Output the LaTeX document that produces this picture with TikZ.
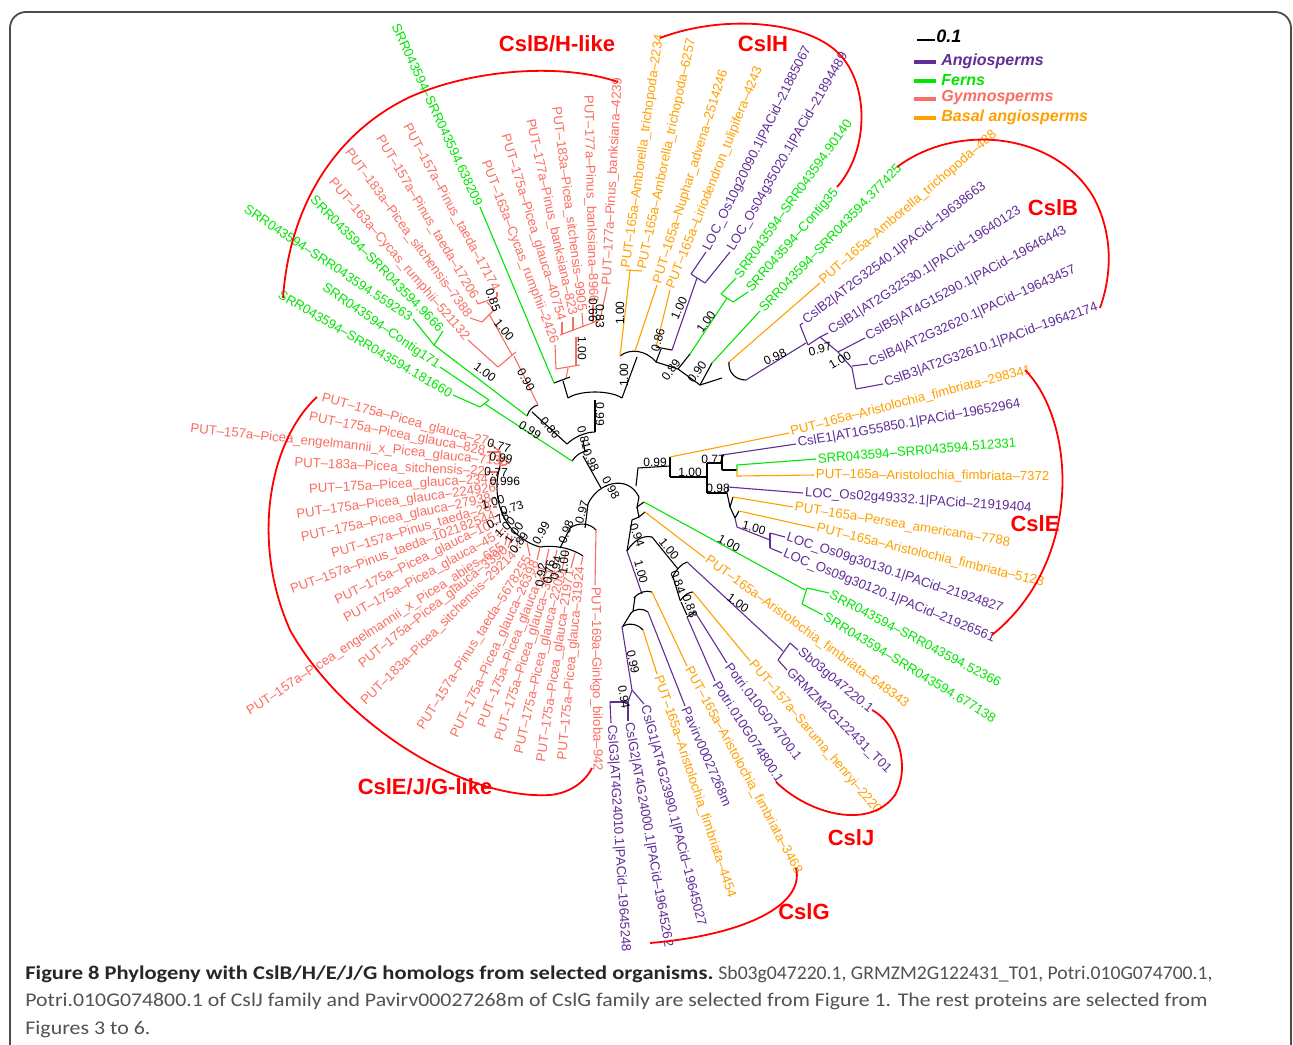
\documentclass[tikz,border=0pt]{standalone}
\usepackage{fontspec}
\setmainfont{Liberation Sans}[Ligatures=TeX]
\newfontfamily\capfont{Carlito}
\usepackage{graphicx}
\definecolor{pur}{RGB}{96,46,150}
\definecolor{grn}{RGB}{0,230,0}
\definecolor{sal}{RGB}{250,110,98}
\definecolor{org}{RGB}{255,160,0}
\definecolor{cred}{RGB}{255,0,0}
\newcommand\tipR[5]{\coordinate (#1) at (#2);\path (#1) -- (#3) node[lbl,text=#4,pos=0,sloped,anchor=west] (#1t) {#5};}
\newcommand\tipL[5]{\coordinate (#1) at (#2);\path (#3) -- (#1) node[lbl,text=#4,pos=1,sloped,anchor=east] (#1t) {#5};}
\begin{document}
\begin{tikzpicture}[x=0.5pt,y=-0.5pt,
  lbl/.style={font=\fontsize{6.6}{7}\selectfont, inner sep=0.8pt},
  bs/.style={font=\fontsize{6}{7}\selectfont, inner sep=0pt, text=black},
  br/.style={line width=0.55pt},
  redarc/.style={cred, line width=0.9pt},
  clade/.style={font=\fontsize{11}{13}\selectfont\bfseries, text=cred, inner sep=0pt},
  leg/.style={font=\fontsize{8}{9}\selectfont\bfseries\itshape, anchor=west, inner sep=0pt},
]
\useasboundingbox (0,0) rectangle (1293,1044);
\fill[white] (0,0) rectangle (1293,1044);
% frame
\draw[black!70, line width=0.9pt, rounded corners=8pt] (10,1120) -- (10,12) -- (1291,12) -- (1291,1120);

% ---------- tips: CslB/H-like ----------
\tipL{g1}{480,207}{398,30}{grn}{SRR043594–SRR043594.638209}
\tipL{s1}{555,345}{487,167}{sal}{PUT–163a–Cycas\_rumphii–2426}
\tipL{s2}{562,322}{507,143}{sal}{PUT–175a–Picea\_glauca–40754}
\tipL{s3}{573,317}{532,130}{sal}{PUT–177a–Pinus\_banksiana–823}
\tipL{s4}{582,313}{557,117}{sal}{PUT–183a–Picea\_sitchensis–9905}
\tipL{s5}{593,305}{588,105}{sal}{PUT–177a–Pinus\_banksiana–8966}
\tipR{s6}{607,287}{618,83}{sal}{PUT–177a–Pinus\_banksiana–4239}
\tipL{s7}{497,292}{413,138}{sal}{PUT–157a–Pinus\_taeda–17174}
\tipL{s8}{476,300}{382,142}{sal}{PUT–157a–Pinus\_taeda–17206}
\tipL{s9}{470,318}{352,157}{sal}{PUT–183a–Picea\_sitchensis–7388}
\tipL{s10}{468,340}{333,183}{sal}{PUT–163a–Cycas\_rumphii–521132}
\tipL{g2}{443,331}{318,203}{grn}{SRR043594–SRR043594.9666}
\tipL{g3}{413,319}{252,212}{grn}{SRR043594–SRR043594.559263}
\tipL{g4}{440,367}{328,290}{grn}{SRR043594–Contig171}
\tipL{g5}{453,395}{285,297}{grn}{SRR043594–SRR043594.181660}
% ---------- CslH ----------
\tipR{o1}{626,270}{660,33}{org}{PUT–165a–Amborella\_trichopoda–2234}
\tipR{o2}{642,271}{692,38}{org}{PUT–165a–Amborella\_trichopoda–6257}
\tipR{o3}{657,285}{725,68}{org}{PUT–165a–Nuphar\_advena–2514246}
\tipR{o4}{670,290}{758,70}{org}{PUT–165a–Liriodendron\_tulipifera–4243}
\tipR{p1}{706,252}{808,47}{pur}{LOC\_Os10g20090.1|PACid–21885067}
\tipR{p2}{730,252}{843,57}{pur}{LOC\_Os04g35020.1|PACid–21894489}
\tipR{g6}{736,278}{848,122}{grn}{SRR043594–SRR043594.90140}
\tipR{g7}{748,292}{837,190}{grn}{SRR043594–Contig35}
\tipR{g8}{760,311}{898,167}{grn}{SRR043594–SRR043594.377425}
% ---------- CslB ----------
\tipR{o5}{820,283}{993,135}{org}{PUT–165a–Amborella\_trichopoda–488}
\tipR{p3}{803,323}{985,185}{pur}{CslB2|AT2G32540.1|PACid–19638663}
\tipR{p4}{828,333}{1020,210}{pur}{CslB1|AT2G32530.1|PACid–19640123}
\tipR{p5}{865,338}{1065,230}{pur}{CslB5|AT4G15290.1|PACid–19646443}
\tipR{p6}{868,364}{1073,270}{pur}{CslB4|AT2G32620.1|PACid–19643457}
\tipR{p7}{883,384}{1097,307}{pur}{CslB3|AT2G32610.1|PACid–19642174}
% ---------- CslE ----------
\tipR{o6}{789,433}{1023,372}{org}{PUT–165a–Aristolochia\_fimbriata–298341}
\tipR{p8}{796,444}{1015,405}{pur}{CslE1|AT1G55850.1|PACid–19652964}
\tipR{g9}{816,459}{1008,443}{grn}{SRR043594–SRR043594.512331}
\tipR{o7}{814,475}{1043,477}{org}{PUT–165a–Aristolochia\_fimbriata–7372}
\tipR{p9}{803,493}{1025,508}{pur}{LOC\_Os02g49332.1|PACid–21919404}
\tipR{o8}{793,507}{1005,542}{org}{PUT–165a–Persea\_americana–7788}
\tipR{o9}{815,528}{1040,582}{org}{PUT–165a–Aristolochia\_fimbriata–5123}
\tipR{p10}{785,537}{1000,608}{pur}{LOC\_Os09g30130.1|PACid–21924827}
\tipR{p11}{782,553}{990,637}{pur}{LOC\_Os09g30120.1|PACid–21926561}
\tipR{g10}{829,593}{1000,683}{grn}{SRR043594–SRR043594.52366}
\tipR{g11}{823,615}{993,718}{grn}{SRR043594–SRR043594.677138}
% ---------- CslJ ----------
\tipR{o10}{705,558}{903,702}{org}{PUT–165a–Aristolochia\_fimbriata–648343}
\tipR{p12}{798,650}{870,710}{pur}{Sb03g047220.1}
\tipR{p13}{787,670}{888,770}{pur}{GRMZM2G122431\_T01}
\tipR{o11}{750,661}{875,808}{org}{PUT–157a–Saruma\_henryi–2220}
\tipR{p14}{727,663}{798,757}{pur}{Potri.010G074700.1}
\tipR{p15}{715,681}{778,777}{pur}{Potri.010G074800.1}
% ---------- CslG ----------
\tipR{o12}{687,666}{797,870}{org}{PUT–165a–Aristolochia\_fimbriata–3468}
\tipR{p16}{685,706}{727,803}{pur}{Pavirv00027268m}
\tipR{o13}{657,674}{730,892}{org}{PUT–165a–Aristolochia\_fimbriata–4454}
\tipR{p17}{644,704}{700,920}{pur}{CslG1|AT4G23990.1|PACid–19645027}
\tipR{p18}{628,721}{667,940}{pur}{CslG2|AT4G24000.1|PACid–19645262}
\tipR{p19}{611,723}{625,945}{pur}{CslG3|AT4G24010.1|PACid–19645248}
% ---------- CslE/J/G-like ----------
\tipL{l1}{490,443}{317,397}{sal}{PUT–175a–Picea\_glauca–27}
\tipL{l2}{487,452}{308,417}{sal}{PUT–175a–Picea\_glauca–828}
\tipL{l3}{510,463}{198,430}{sal}{PUT–157a–Picea\_engelmannii\_x\_Picea\_glauca–7138}
\tipL{l4}{487,472}{287,463}{sal}{PUT–183a–Picea\_sitchensis–22}
\tipL{l5}{490,480}{304,490}{sal}{PUT–175a–Picea\_glauca–234}
\tipL{l6}{498,488}{295,515}{sal}{PUT–175a–Picea\_glauca–224926}
\tipL{l7}{493,498}{305,537}{sal}{PUT–175a–Picea\_glauca–27938}
\tipL{l8}{493,507}{323,557}{sal}{PUT–157a–Pinus\_taeda–28}
\tipL{l9}{497,515}{292,590}{sal}{PUT–157a–Pinus\_taeda–102182544}
\tipL{l10}{492,525}{332,603}{sal}{PUT–175a–Picea\_glauca–10}
\tipL{l11}{497,536}{350,617}{sal}{PUT–175a–Picea\_glauca–45}
\tipL{l12}{505,545}{263,703}{sal}{PUT–157a–Picea\_engelmannii\_x\_Picea\_abies–655}
\tipL{l13}{508,548}{380,650}{sal}{PUT–175a–Picea\_glauca–3390}
\tipL{l14}{516,552}{387,680}{sal}{PUT–183a–Picea\_sitchensis–29214}
\tipL{l15}{530,556}{425,722}{sal}{PUT–157a–Pinus\_taeda–5678255}
\tipL{l16}{537,560}{458,730}{sal}{PUT–175a–Picea\_glauca–26398}
\tipL{l17}{545,565}{477,740}{sal}{PUT–175a–Picea\_glauca–21}
\tipL{l18}{553,568}{498,745}{sal}{PUT–175a–Picea\_glauca–351}
\tipL{l19}{562,570}{520,750}{sal}{PUT–175a–Picea\_glauca–2200}
\tipL{l20}{571,568}{543,752}{sal}{PUT–175a–Picea\_glauca–21971}
\tipL{l21}{581,565}{563,757}{sal}{PUT–175a–Picea\_glauca–31924}
\tipR{l22}{595,585}{597,757}{sal}{PUT–169a–Ginkgo\_biloba–942}

% ================= branches =================
% root
\draw[br] (588,504) .. controls (598,482) and (628,474) .. (639,497);
\draw[br] (601,488) -- (583,456);
\draw[br] (588,504) -- (585,528);
\draw[br] (636,486) -- (638,468) -- (670,466);
% CslE
\draw[br] (670,457) -- (670,477);
\draw[org,br] (670,457) -- (o6);
\draw[br] (670,477) -- (707,477);
\draw[br] (707,463) -- (707,493);
\draw[br] (707,463) -- (722,463);
\draw[br] (722,455) -- (722,470);
\draw[pur,br] (722,455) -- (p8);
\draw[br] (722,470) -- (737,470);
\draw[grn,br] (737,470) -- (737,465) -- (g9);
\draw[org,br] (737,470) -- (737,476) -- (o7);
\draw[br] (707,493) -- (727,493);
\draw[pur,br] (727,493) -- (728,487) -- (p9);
\draw[br] (727,493) -- (730,507);
\draw[br] (733,497) -- (730,507) -- (735,518);
\draw[org,br] (733,497) -- (o8);
\draw[br] (735,518) -- (739,511);
\draw[org,br] (739,511) -- (o9);
\draw[pur,br] (735,518) -- (737,527) -- (770,540);
\draw[pur,br] (770,533) -- (770,548);
\draw[pur,br] (770,533) -- (p10);
\draw[pur,br] (770,548) -- (p11);
% lower stem
\draw[br] (639,497) -- (637,507) -- (644,502);
\draw[grn,br] (644,502) -- (805,590);
\draw[grn,br] (807,588) -- (802,604);
\draw[grn,br] (807,588) -- (g10);
\draw[grn,br] (802,604) -- (g11);
\draw[br] (637,507) -- (639,517) -- (645,512);
\draw[org,br] (645,512) -- (o10);
\draw[br] (639,517) -- (632,520) -- (627,551);
\draw[br] (627,551) .. controls (634,540) and (643,535) .. (652,537);
% CslG
\draw[pur,br] (627,551) -- (642,594);
\draw[br] (634,598) .. controls (639,592) and (646,590) .. (652,592);
\draw[org,br] (652,592) -- (o12);
\draw[br] (635,597) -- (633,611);
\draw[br] (630,614) .. controls (635,608) and (643,608) .. (648,612);
\draw[pur,br] (648,612) -- (p16);
\draw[br] (631,613) -- (623,626);
\draw[br] (622,627) .. controls (628,622) and (638,624) .. (643,630);
\draw[org,br] (643,630) -- (o13);
\draw[pur,br] (622,627) -- (632,690);
\draw[pur,br] (632,690) -- (p17);
\draw[pur,br] (632,690) -- (628,702);
\draw[pur,br] (610,702) -- (628,702);
\draw[pur,br] (628,702) -- (p18);
\draw[pur,br] (610,702) -- (p19);
% CslJ
\draw[br] (652,537) -- (678,569);
\draw[br] (672,578) .. controls (676,570) and (681,564) .. (687,562);
\draw[pur,br] (687,562) -- (783,651);
\draw[pur,br] (790,643) -- (778,660);
\draw[pur,br] (790,643) -- (p12);
\draw[pur,br] (778,660) -- (p13);
\draw[br] (673,577) -- (680,600);
\draw[br] (680,601) .. controls (684,595) and (689,592) .. (693,592);
\draw[org,br] (693,592) -- (o11);
\draw[br] (681,602) -- (687,615);
\draw[br] (687,617) -- (695,612);
\draw[pur,br] (695,612) -- (p14);
\draw[pur,br] (687,617) -- (p15);
% CslE/J/G-like gymnosperms
\draw[br] (570,528) .. controls (578,522) and (590,523) .. (596,530);
\draw[sal,br] (596,530) -- (l22);
\draw[br] (570,528) -- (560,548);
\draw[br] (540,547) .. controls (552,545) and (570,547) .. (583,556);
\draw[sal,br] (583,556) -- (l21);
\draw[sal,br] (575,553) -- (l20);
\draw[sal,br] (566,551) -- (l19);
\draw[sal,br] (557,550) -- (l18);
\draw[sal,br] (549,549) -- (l17);
\draw[br] (540,547) .. controls (505,537) and (490,500) .. (500,466);
\draw[sal,br] (540,547) -- (l16);
\draw[sal,br] (527,543) -- (l15);
\draw[sal,br] (518,539) -- (l14);
\draw[sal,br] (512,536) -- (l13);
\draw[sal,br] (508,533) -- (l12);
\draw[sal,br] (503,528) -- (l11);
\draw[sal,br] (500,522) -- (l10);
\draw[sal,br] (498,515) -- (l9);
\draw[sal,br] (497,507) -- (l8);
\draw[sal,br] (496,498) -- (l7);
\draw[sal,br] (496,489) -- (l6);
\draw[sal,br] (497,480) -- (l5);
\draw[sal,br] (498,472) -- (l4);
\draw[sal,br] (500,466) -- (l3);
\draw[sal,br] (500,466) -- (500,452) -- (l2);
\draw[sal,br] (500,452) -- (l1);
% CslB/H-like
\draw[br] (572,461) .. controls (576,455) and (582,451) .. (588,451);
\draw[grn,br] (572,461) -- (485,404);
\draw[grn,br] (480,407) -- (489,400);
\draw[grn,br] (480,407) -- (g5);
\draw[grn,br] (489,400) -- (g4);
\draw[br] (585,452) -- (583,440);
\draw[br] (567,444) .. controls (574,437) and (586,432) .. (595,432);
\draw[br] (567,444) -- (532,412);
\draw[br] (527,416) .. controls (529,410) and (533,406) .. (538,405);
\draw[grn,br] (527,416) -- (434,345);
\draw[grn,br] (434,345) -- (g3);
\draw[grn,br] (434,345) -- (g2);
\draw[sal,br] (538,405) -- (514,356);
\draw[sal,br] (498,367) -- (516,352);
\draw[sal,br] (498,367) -- (s10);
\draw[sal,br] (512,355) -- (489,314);
\draw[sal,br] (482,322) -- (494,310);
\draw[sal,br] (482,322) -- (s9);
\draw[sal,br] (494,310) -- (487,302);
\draw[sal,br] (478,304) -- (497,297);
\draw[sal,br] (478,304) -- (s8);
\draw[sal,br] (497,297) -- (s7);
\draw[br] (595,432) -- (595,400);
\draw[br] (568,398) .. controls (580,390) and (610,390) .. (622,398);
\draw[br] (568,398) -- (563,381);
\draw[br] (554,383) -- (570,377);
\draw[grn,br] (554,383) -- (g1);
\draw[sal,br] (566,378) -- (568,368);
\draw[sal,br] (556,369) -- (580,365);
\draw[sal,br] (556,369) -- (s1);
\draw[sal,br] (576,366) -- (576,337);
\draw[sal,br] (560,335) -- (600,320);
\draw[sal,br] (562,334) -- (s2);
\draw[sal,br] (573,331) -- (s3);
\draw[sal,br] (583,327) -- (s4);
\draw[sal,br] (593,323) -- (s5);
\draw[sal,br] (600,320) -- (s6);
% CslH
\draw[br] (622,398) -- (637,357);
\draw[br] (620,356) .. controls (630,348) and (646,350) .. (656,362);
\draw[org,br] (620,356) -- (630,271);
\draw[org,br] (o1) -- (o2);
\draw[org,br] (635,351) -- (o3);
\draw[br] (656,362) -- (661,349);
\draw[br] (656,347) -- (672,350);
\draw[org,br] (656,347) -- (o4);
\draw[pur,br] (672,350) -- (697,278);
\draw[pur,br] (691,274) -- (705,283);
\draw[pur,br] (691,274) -- (p1);
\draw[pur,br] (705,283) -- (p2);
\draw[br] (656,362) -- (678,369) -- (690,354);
\draw[grn,br] (690,354) -- (727,298);
\draw[grn,br] (721,294) -- (733,302);
\draw[grn,br] (721,294) -- (g6);
\draw[grn,br] (733,302) -- (g7);
\draw[br] (678,369) -- (700,385) -- (712,363);
\draw[grn,br] (712,363) -- (g8);
\draw[br] (700,385) -- (722,378);
\draw[br] (729,362) .. controls (728,372) and (735,380) .. (746,380);
\draw[org,br] (729,362) -- (o5);
% CslB
\draw[pur,br] (746,380) -- (806,343);
\draw[pur,br] (800,325) -- (808,345);
\draw[pur,br] (800,325) -- (p3);
\draw[pur,br] (808,345) -- (820,337);
\draw[pur,br] (820,337) -- (838,352);
\draw[pur,br] (820,337) -- (p4);
\draw[pur,br] (838,352) -- (p5);
\draw[pur,br] (838,352) -- (852,368) -- (856,389);
\draw[pur,br] (852,366) -- (p6);
\draw[pur,br] (856,389) -- (p7);

% ================= bootstrap values =================
\node[bs,rotate=-70] (b1) at (493,300) {0.85};
\node[bs,rotate=-50] (b2) at (504,330) {1.00};
\node[bs,rotate=-60] (b3) at (526,380) {0.90};
\node[bs,rotate=-37] (b4) at (485,372) {1.00};
\node[bs,rotate=-32] (b5) at (530,430) {0.99};
\node[bs,rotate=-50] (b6) at (550,428) {0.86};
\node[bs,rotate=-90] (b7) at (600,414) {0.99};
\node[bs,rotate=-75] (b8) at (584,438) {0.81};
\node[bs,rotate=-65] (b9) at (591,460) {0.98};
\node[bs,rotate=-60] (b10) at (611,488) {0.98};
\node[bs,rotate=-90] (b11) at (582,348) {1.00};
\node[bs,rotate=-90] (b12) at (600,316) {0.83};
\node[bs,rotate=-90] (b13) at (593,310) {0.66};
\node[bs,rotate=90] (b14) at (620,313) {1.00};
\node[bs,rotate=90] (b15) at (624,375) {1.00};
\node[bs,rotate=75] (b16) at (658,340) {0.86};
\node[bs,rotate=55] (b17) at (671,370) {0.89};
\node[bs,rotate=65] (b18) at (679,308) {1.00};
\node[bs,rotate=55] (b19) at (706,322) {1.00};
\node[bs,rotate=55] (b20) at (697,372) {0.90};
\node[bs,rotate=25] (b21) at (775,357) {0.98};
\node[bs,rotate=15] (b22) at (820,349) {0.97};
\node[bs,rotate=30] (b23) at (840,360) {1.00};
\node[bs] (b24) at (655,462) {0.99};
\node[bs] (b25) at (690,472) {1.00};
\node[bs] (b26) at (713,459) {0.77};
\node[bs] (b27) at (718,488) {0.98};
\node[bs,rotate=-15] (b28) at (754,528) {1.00};
\node[bs,rotate=-28] (b29) at (729,543) {1.00};
\node[bs,rotate=-70] (b30) at (637,535) {0.94};
\node[bs,rotate=-50] (b31) at (669,549) {1.00};
\node[bs,rotate=-75] (b32) at (641,572) {1.00};
\node[bs,rotate=-70] (b33) at (678,582) {0.84};
\node[bs,rotate=-70] (b34) at (690,606) {0.88};
\node[bs,rotate=-35] (b35) at (738,603) {1.00};
\node[bs,rotate=-78] (b36) at (633,662) {0.99};
\node[bs,rotate=-80] (b37) at (624,697) {0.94};
\node[bs,rotate=75] (b38) at (582,512) {0.97};
\node[bs,rotate=70] (b39) at (566,532) {0.98};
\node[bs,rotate=60] (b40) at (541,533) {0.99};
\node[bs,rotate=-15] (b41) at (499,446) {0.77};
\node[bs,rotate=-10] (b42) at (501,458) {0.99};
\node[bs,rotate=-3] (b43) at (496,472) {0.77};
\node[bs] (b44) at (505,481) {0.996};
\node[bs,rotate=15] (b45) at (493,502) {1.00};
\node[bs,rotate=20] (b46) at (512,508) {0.73};
\node[bs,rotate=30] (b47) at (498,520) {0.78};
\node[bs,rotate=45] (b48) at (505,527) {1.00};
\node[bs,rotate=55] (b49) at (514,533) {1.00};
\node[bs,rotate=55] (b50) at (519,543) {0.89};
\node[bs,rotate=80] (b51) at (541,575) {0.92};
\node[bs,rotate=80] (b52) at (549,572) {0.76};
\node[bs,rotate=80] (b53) at (556,568) {0.94};
\node[bs,rotate=85] (b54) at (564,562) {1.00};

% ================= clade arcs =================
\draw[redarc] (283,298) .. controls (290,200) and (340,130) .. (410,97) .. controls (470,70) and (560,62) .. (618,82);
\draw[redarc] (660,38) .. controls (720,15) and (800,20) .. (835,50) .. controls (870,80) and (870,150) .. (837,187);
\draw[redarc] (897,167) .. controls (960,120) and (1060,135) .. (1095,200) .. controls (1115,240) and (1110,280) .. (1100,308);
\draw[redarc] (1025,370) .. controls (1075,420) and (1085,560) .. (992,635);
\draw[redarc] (776,782) .. controls (810,815) and (870,830) .. (895,795) .. controls (910,770) and (900,725) .. (872,710);
\draw[redarc] (796,868) .. controls (805,905) and (745,935) .. (650,943);
\draw[redarc] (317,397) .. controls (270,440) and (250,540) .. (290,630) .. controls (340,720) and (460,800) .. (550,795) .. controls (570,793) and (585,782) .. (592,768);

\node[clade] (c1) at (557,44) {CslB/H-like};
\node[clade] (c2) at (763,44) {CslH};
\node[clade] (c3) at (1053,208) {CslB};
\node[clade] (c4) at (1035,524) {CslE};
\node[clade] (c5) at (851,838) {CslJ};
\node[clade] (c6) at (804,912) {CslG};
\node[clade] (c7) at (425,787) {CslE/J/G-like};

% ================= legend =================
\draw[line width=1pt] (917,40) coordinate (sb1) -- (935,40) coordinate (sb2);
\node[leg,font=\fontsize{9}{10}\selectfont\bfseries\itshape] (sc) at (936,36) {0.1};
\draw[pur,line width=2pt] (914,62) -- (936,62);
\draw[grn,line width=2pt] (914,81) -- (936,81);
\draw[sal,line width=2pt] (914,99) -- (936,99);
\draw[org,line width=2pt] (914,118) -- (936,118);
\node[leg,text=pur] (lg1) at (941,61) {Angiosperms};
\node[leg,text=grn] (lg2) at (941,80) {Ferns};
\node[leg,text=sal] (lg3) at (941,98) {Gymnosperms};
\node[leg,text=org] (lg4) at (941,117) {Basal angiosperms};

% ================= caption =================
\node[anchor=base west, inner sep=0pt, text=black!85] (cap1) at (25,979)
  {\capfont\fontsize{9.7}{11}\selectfont\resizebox{344pt}{\height}{\textbf{Figure 8 Phylogeny with CslB/H/E/J/G homologs from selected organisms.}}};
\node[anchor=base west, inner sep=0pt, text=black!68] (cap1b) at (718,979)
  {\capfont\fontsize{9.7}{11}\selectfont\resizebox{247pt}{\height}{Sb03g047220.1, GRMZM2G122431\_T01, Potri.010G074700.1,}};
\node[anchor=base west, inner sep=0pt, text=black!68] (cap2) at (25,1006)
  {\capfont\fontsize{9.7}{11}\selectfont\resizebox{591pt}{\height}{Potri.010G074800.1 of CslJ family and Pavirv00027268m of CslG family are selected from Figure 1. The rest proteins are selected from}};
\node[anchor=base west, inner sep=0pt, text=black!68] (cap3) at (25,1034)
  {\capfont\fontsize{9.7}{11}\selectfont\resizebox{62.5pt}{\height}{Figures 3 to 6.}};
\end{tikzpicture}
\end{document}
